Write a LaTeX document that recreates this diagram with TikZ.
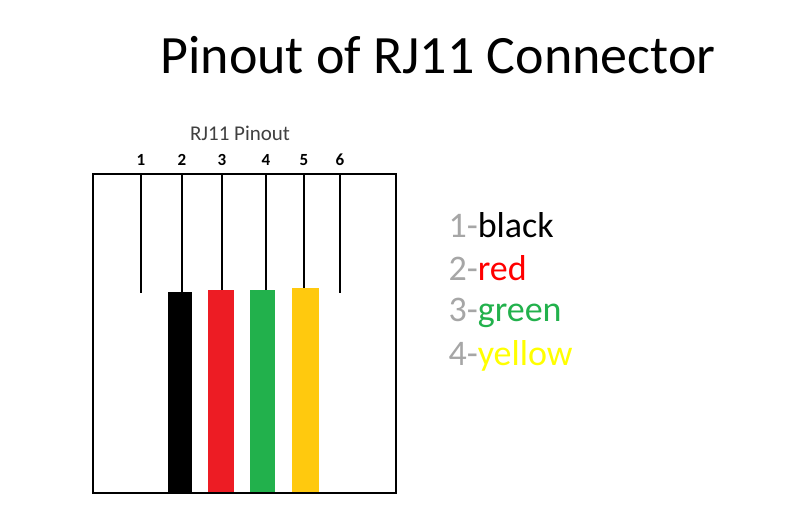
\documentclass[tikz,border=0pt]{standalone}
\usepackage{fontspec}
\setmainfont{Carlito}
\definecolor{pinred}{HTML}{ED1C24}
\definecolor{pingreen}{HTML}{22B14C}
\definecolor{pinyellow}{HTML}{FFC90E}
\definecolor{legyellow}{HTML}{FFFF00}
\definecolor{leggray}{HTML}{A6A6A6}
\begin{document}
\begin{tikzpicture}[x=1pt,y=-1pt,
    pin/.style={line width=2pt},
    num/.style={font=\fontsize{17}{17}\selectfont\bfseries},
    legend/.style={anchor=west,font=\fontsize{36}{36}\selectfont},
]
\useasboundingbox (0,0) rectangle (800,510);
\node (title) at (438,55) {\fontsize{54}{54}\selectfont Pinout of RJ11 Connector};
\node (sub) at (240,133) {\fontsize{21}{21}\selectfont\color{black!75}RJ11 Pinout};
% wires
\fill[black] (168,292) rectangle (192,493);
\fill[pinred] (208,290) rectangle (234,493);
\fill[pingreen] (250,290) rectangle (275,493);
\fill[pinyellow] (292,288) rectangle (319,493);
% housing
\draw[line width=2.5pt] (93,174) rectangle (396,493);
% pins
\foreach \n/\x/\y in {1/141/293,2/182/292,3/222/290,4/266/290,5/304/288,6/340/293}{
  \draw[pin] (\x,174) -- (\x,\y);
  \node[num] (n\n) at (\x,160) {\n};
}
% legend
\node[legend] (l1) at (445,225) {\textcolor{leggray}{1-}black};
\node[legend] (l2) at (445,268) {\textcolor{leggray}{2-}\textcolor{red}{red}};
\node[legend] (l3) at (445,313) {\textcolor{leggray}{3-}\textcolor{pingreen}{green}};
\node[legend] (l4) at (445,356) {\textcolor{leggray}{4-}\textcolor{legyellow}{yellow}};
\end{tikzpicture}
\end{document}
